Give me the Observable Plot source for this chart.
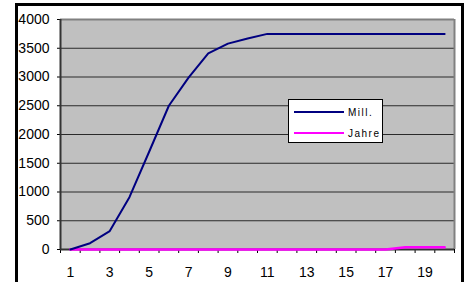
<!DOCTYPE html>
<html>
<head>
<meta charset="utf-8">
<script src="https://cdn.jsdelivr.net/npm/d3@7"></script>
<script src="https://cdn.jsdelivr.net/npm/@observablehq/plot@0.6"></script>
<style>
  html, body { margin: 0; padding: 0; background: #fff; }
  #wrap { position: relative; width: 464px; height: 282px; overflow: hidden; font-family: "Liberation Sans", Arial, sans-serif; }
  #border { position: absolute; left: 15px; top: 3px; width: 449px; height: 300px; border: 3px solid #000; box-sizing: border-box; pointer-events: none; }
  #legend { position: absolute; left: 288px; top: 99px; width: 95px; height: 44px; background: #fff; border: 1px solid #000; box-sizing: border-box; font-size: 10px; letter-spacing: 1.5px; }
  .row { position: absolute; left: 0; height: 12px; display: flex; align-items: center; }
  .sw { display: inline-block; width: 50px; margin-left: 5px; margin-right: 4px; }
</style>
</head>
<body>
<div id="wrap">
  <div id="chart"></div>
  <div id="border"></div>
  <div id="legend"></div>
</div>
<script>
const categories = [1, 2, 3, 4, 5, 6, 7, 8, 9, 10, 11, 12, 13, 14, 15, 16, 17, 18, 19, 20];
const mill = [0, 110, 320, 910, 1700, 2500, 2990, 3410, 3580, 3670, 3750, 3750, 3750, 3750, 3750, 3750, 3750, 3750, 3750, 3750];
const jahre = [0, 0, 0, 0, 0, 0, 0, 0, 0, 0, 0, 0, 0, 0, 0, 0, 0, 40, 40, 40];
const xTickLabels = [1, 3, 5, 7, 9, 11, 13, 15, 17, 19];
const yTicks = [0, 500, 1000, 1500, 2000, 2500, 3000, 3500, 4000];
const seriesNames = ["Mill.", "Jahre"];
const seriesColors = ["#000080", "#ff00ff"];

const rows = categories.map((c, i) => ({x: c, mill: mill[i], jahre: jahre[i]}));
const boundaries = [categories[0] - 0.5, ...categories.map(c => c + 0.5)];
const yMax = yTicks[yTicks.length - 1];

const chart = Plot.plot({
  width: 464,
  height: 282,
  marginLeft: 60,
  marginRight: 10,
  marginTop: 19,
  marginBottom: 33,
  style: {fontFamily: "'Liberation Sans', Arial, sans-serif", fontSize: "14px", background: "transparent", color: "#000"},
  x: {domain: [boundaries[0], boundaries[boundaries.length - 1]], label: null},
  y: {domain: [0, yMax], label: null},
  marks: [
    Plot.frame({fill: "#c0c0c0", stroke: null}),
    Plot.ruleY(yTicks.filter(v => v > 0 && v < yMax), {stroke: "#2a2a2a", strokeWidth: 1}),
    Plot.ruleY([yMax], {stroke: "#808080", strokeWidth: 2}),
    Plot.ruleX([boundaries[boundaries.length - 1]], {stroke: "#808080", strokeWidth: 2}),
    Plot.axisY({ticks: yTicks, tickSize: 3, tickPadding: 8, tickFormat: d => String(d), fontSize: 14}),
    Plot.axisX({ticks: boundaries, tickSize: 4, tickFormat: () => "", anchor: "bottom"}),
    Plot.axisX({ticks: xTickLabels, tickSize: 0, tickPadding: 18, tickFormat: d => String(d), anchor: "bottom", fontSize: 14}),
    Plot.ruleX([boundaries[0]], {stroke: "#333", strokeWidth: 2}),
    Plot.ruleY([0], {stroke: "#333", strokeWidth: 2}),
    Plot.line(rows, {x: "x", y: "jahre", stroke: seriesColors[1], strokeWidth: 2.5}),
    Plot.line(rows, {x: "x", y: "mill", stroke: seriesColors[0], strokeWidth: 2})
  ]
});
document.getElementById("chart").appendChild(chart);

const legend = document.getElementById("legend");
seriesNames.forEach((name, i) => {
  const row = document.createElement("div");
  row.className = "row";
  row.style.top = (i === 0 ? 6 : 27) + "px";
  const sw = document.createElement("span");
  sw.className = "sw";
  sw.style.borderTop = `2px solid ${seriesColors[i]}`;
  const t = document.createElement("span");
  t.textContent = name;
  row.appendChild(sw);
  row.appendChild(t);
  legend.appendChild(row);
});
</script>
</body>
</html>
